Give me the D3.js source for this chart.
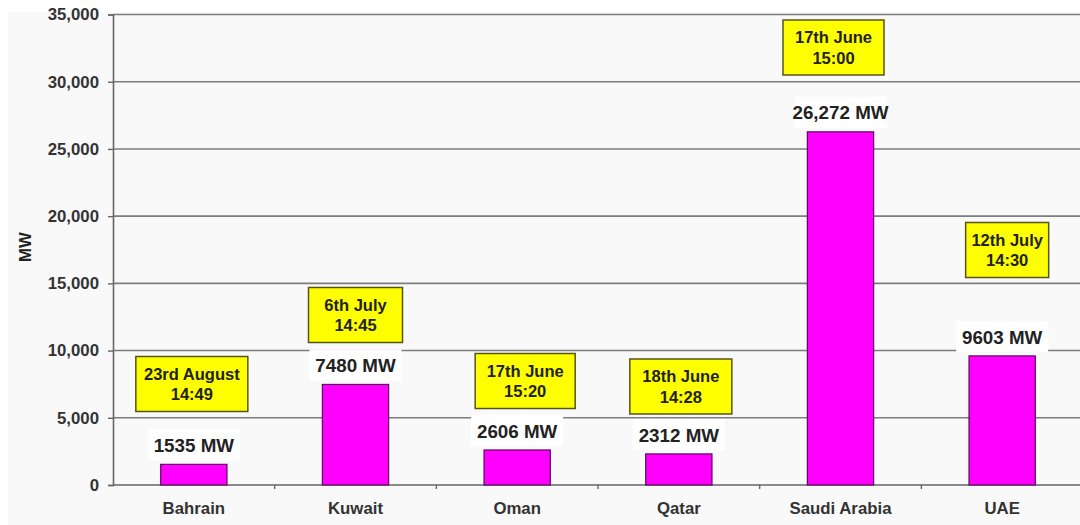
<!DOCTYPE html>
<html>
<head>
<meta charset="utf-8">
<script src="https://cdn.jsdelivr.net/npm/d3@7"></script>
<style>
  html, body { margin: 0; padding: 0; background: #ffffff; }
  svg { display: block; font-family: "Liberation Sans", Arial, sans-serif; }
</style>
</head>
<body>
<svg id="chart" width="1080" height="525"></svg>
<script>
// Peak electricity demand per GCC country (MW), with date and time of the peak
const countries = ["Bahrain", "Kuwait", "Oman", "Qatar", "Saudi Arabia", "UAE"];
const peakMW = [1535, 7480, 2606, 2312, 26272, 9603];
const peakLabels = ["1535 MW", "7480 MW", "2606 MW", "2312 MW", "26,272 MW", "9603 MW"];
const peakDates = ["23rd August", "6th July", "17th June", "18th June", "17th June", "12th July"];
const peakTimes = ["14:49", "14:45", "15:20", "14:28", "15:00", "14:30"];
const yTicks = [0, 5000, 10000, 15000, 20000, 25000, 30000, 35000];

// Callout placement: horizontal nudge (px), vertical level (MW), box width (px)
const callouts = [
  { dx: -2, level: 7513, w: 112 },
  { dx: 0, level: 12646, w: 94 },
  { dx: 8, level: 7736, w: 100 },
  { dx: 2, level: 7327, w: 102 },
  { dx: -7, level: 32545, w: 101 },
  { dx: 5, level: 17481, w: 83 }
];

const svg = d3.select("#chart");
const W = 1080, H = 525;
const plot = { left: 113, right: 1083, top: 14.5, bottom: 485 };
const axisFont = 16.8;

// faint backdrop
svg.append("rect").attr("x", 8).attr("y", 12).attr("width", W - 8).attr("height", H - 12)
  .attr("fill", "#f9f9f9");

const x = d3.scaleBand().domain(countries)
  .range([plot.left, plot.right]).paddingInner(0.59).paddingOuter(0.295);
const y = d3.scaleLinear().domain([0, 35000]).range([plot.bottom, plot.top]);

// horizontal gridlines
svg.append("g").selectAll("line").data(yTicks.filter(d => d > 0)).join("line")
  .attr("x1", plot.left).attr("x2", W)
  .attr("y1", d => y(d)).attr("y2", d => y(d))
  .attr("stroke", "#7d7d7d").attr("stroke-width", 1.6);

// y axis
const yAxis = d3.axisLeft(y).tickValues(yTicks).tickSize(5).tickPadding(9)
  .tickFormat(d3.format(","));
const gy = svg.append("g").attr("transform", `translate(${plot.left},0)`).call(yAxis);
gy.select(".domain").attr("stroke", "#666").attr("stroke-width", 1.6);
gy.selectAll(".tick line").attr("stroke", "#666").attr("stroke-width", 1.4);
gy.selectAll(".tick text").attr("fill", "#333").attr("font-size", axisFont)
  .attr("font-weight", "bold").attr("font-family", "Liberation Sans, Arial, sans-serif");

// x axis with ticks at category boundaries
const gx = svg.append("g").attr("transform", `translate(0,${plot.bottom})`);
gx.append("line").attr("x1", plot.left).attr("x2", W).attr("y1", 0).attr("y2", 0)
  .attr("stroke", "#666").attr("stroke-width", 1.6);
const bounds = countries.map(c => x(c) - x.step() * x.paddingInner() / 2).slice(1);
gx.selectAll("line.bt").data(bounds).join("line").attr("class", "bt")
  .attr("x1", d => d).attr("x2", d => d).attr("y1", 0).attr("y2", 4)
  .attr("stroke", "#666").attr("stroke-width", 1.4);
gx.selectAll("text").data(countries).join("text")
  .attr("x", d => x(d) + x.bandwidth() / 2).attr("y", 29)
  .attr("text-anchor", "middle").attr("fill", "#333")
  .attr("font-size", axisFont).attr("font-weight", "bold").text(d => d);

// y axis title
svg.append("text").attr("transform", "translate(31,247) rotate(-90)")
  .attr("text-anchor", "middle").attr("fill", "#222")
  .attr("font-size", axisFont).attr("font-weight", "bold").text("MW");

// bars
svg.append("g").selectAll("rect").data(countries).join("rect")
  .attr("x", d => x(d)).attr("width", x.bandwidth())
  .attr("y", (d, i) => y(peakMW[i])).attr("height", (d, i) => y(0) - y(peakMW[i]))
  .attr("fill", "#ff00ff").attr("stroke", "#5c0a5c").attr("stroke-width", 1.2);

// value labels on white boxes
const vl = svg.append("g").selectAll("g").data(countries).join("g")
  .attr("transform", (d, i) => `translate(${x(d) + x.bandwidth() / 2},${y(peakMW[i]) - 19})`);
vl.append("rect").attr("x", -46).attr("y", -16).attr("width", 92).attr("height", 31)
  .attr("fill", "#ffffff");
vl.append("text").attr("text-anchor", "middle").attr("dy", "0.35em")
  .attr("fill", "#222").attr("font-size", 18.8).attr("font-weight", "bold")
  .text((d, i) => peakLabels[i]);

// date/time callouts
const co = svg.append("g").selectAll("g").data(countries).join("g")
  .attr("transform", (d, i) =>
    `translate(${x(d) + x.bandwidth() / 2 + callouts[i].dx},${y(callouts[i].level)})`);
co.append("rect")
  .attr("x", (d, i) => -callouts[i].w / 2).attr("y", -27.5)
  .attr("width", (d, i) => callouts[i].w).attr("height", 55)
  .attr("fill", "#ffff00").attr("stroke", "#55551a").attr("stroke-width", 1.5);
co.append("text").attr("text-anchor", "middle").attr("y", -10).attr("dy", "0.35em")
  .attr("fill", "#222").attr("font-size", 16.5).attr("font-weight", "bold")
  .text((d, i) => peakDates[i]);
co.append("text").attr("text-anchor", "middle").attr("y", 10.5).attr("dy", "0.35em")
  .attr("fill", "#222").attr("font-size", 16.5).attr("font-weight", "bold")
  .text((d, i) => peakTimes[i]);
</script>
</body>
</html>
